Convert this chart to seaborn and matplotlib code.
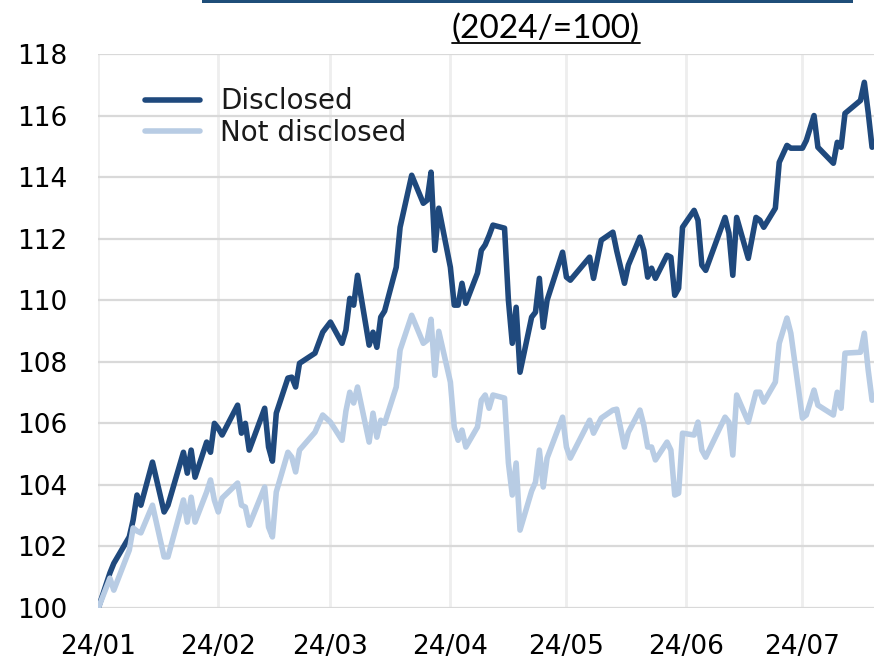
import matplotlib
matplotlib.use("Agg")
import matplotlib.pyplot as plt
import matplotlib.dates as mdates
from matplotlib.patches import Rectangle
from matplotlib.lines import Line2D
import pandas as pd
import seaborn as sns

# index, 2024 base = 100
dates = [
    "2024-01-01", "2024-01-04", "2024-01-05", "2024-01-09", "2024-01-10", "2024-01-11",
    "2024-01-12", "2024-01-15", "2024-01-18", "2024-01-19", "2024-01-23", "2024-01-24",
    "2024-01-25", "2024-01-26", "2024-01-29", "2024-01-30", "2024-01-31", "2024-02-01",
    "2024-02-02", "2024-02-06", "2024-02-07", "2024-02-08", "2024-02-09", "2024-02-13",
    "2024-02-14", "2024-02-15", "2024-02-16", "2024-02-19", "2024-02-20", "2024-02-21",
    "2024-02-22", "2024-02-26", "2024-02-28", "2024-03-01", "2024-03-04", "2024-03-05",
    "2024-03-06", "2024-03-07", "2024-03-08", "2024-03-11", "2024-03-12", "2024-03-13",
    "2024-03-14", "2024-03-15", "2024-03-18", "2024-03-19", "2024-03-22", "2024-03-25",
    "2024-03-26", "2024-03-27", "2024-03-28", "2024-03-29", "2024-04-01", "2024-04-02",
    "2024-04-03", "2024-04-04", "2024-04-05", "2024-04-08", "2024-04-09", "2024-04-10",
    "2024-04-11", "2024-04-12", "2024-04-15", "2024-04-16", "2024-04-17", "2024-04-18",
    "2024-04-19", "2024-04-22", "2024-04-23", "2024-04-24", "2024-04-25", "2024-04-26",
    "2024-04-30", "2024-05-01", "2024-05-02", "2024-05-07", "2024-05-08", "2024-05-10",
    "2024-05-13", "2024-05-14", "2024-05-16", "2024-05-17", "2024-05-20", "2024-05-21",
    "2024-05-22", "2024-05-23", "2024-05-24", "2024-05-27", "2024-05-28", "2024-05-29",
    "2024-05-30", "2024-05-31", "2024-06-03", "2024-06-04", "2024-06-05", "2024-06-06",
    "2024-06-11", "2024-06-12", "2024-06-13", "2024-06-14", "2024-06-17", "2024-06-19",
    "2024-06-20", "2024-06-21", "2024-06-24", "2024-06-25", "2024-06-27", "2024-06-28",
    "2024-07-01", "2024-07-02", "2024-07-04", "2024-07-05", "2024-07-09", "2024-07-10",
    "2024-07-11", "2024-07-12", "2024-07-16", "2024-07-17", "2024-07-18", "2024-07-19",
]

disclosed = [
    100.00, 101.14, 101.45, 102.31, 102.86, 103.67,
    103.34, 104.74, 103.12, 103.34, 105.06, 104.38,
    105.13, 104.25, 105.39, 105.06, 106.00, 105.84,
    105.62, 106.59, 105.68, 106.00, 105.13, 106.49,
    105.23, 104.77, 106.33, 107.47, 107.50, 107.18,
    107.95, 108.28, 108.96, 109.29, 108.60, 109.03,
    110.06, 109.84, 110.81, 108.54, 108.96, 108.47,
    109.45, 109.65, 111.07, 112.37, 114.06, 113.15,
    113.25, 114.16, 111.62, 112.99, 111.07, 109.84,
    109.84, 110.55, 109.90, 110.88, 111.62, 111.80,
    112.10, 112.44, 112.34, 110.00, 108.60, 109.77,
    107.66, 109.45, 109.61, 110.71, 109.12, 110.00,
    111.56, 110.75, 110.65, 111.40, 110.71, 111.95,
    112.21, 111.60, 110.55, 111.14, 112.05, 111.62,
    110.75, 111.04, 110.71, 111.46, 111.40, 110.16,
    110.39, 112.37, 112.92, 112.60, 111.14, 110.97,
    112.69, 112.18, 110.81, 112.69, 111.36, 112.69,
    112.60, 112.37, 112.99, 114.48, 115.03, 114.94,
    114.94, 115.19, 116.00, 114.97, 114.45, 115.13,
    114.97, 116.07, 116.49, 117.08, 116.10, 114.97,
]

not_disclosed = [
    100.00, 100.97, 100.58, 101.88, 102.60, 102.50,
    102.44, 103.34, 101.66, 101.66, 103.51, 102.79,
    103.60, 102.79, 103.77, 104.16, 103.50, 103.12,
    103.57, 104.06, 103.34, 103.28, 102.69, 103.93,
    102.63, 102.31, 103.77, 105.06, 104.90, 104.42,
    105.13, 105.71, 106.27, 106.04, 105.45, 106.40,
    107.01, 106.66, 107.18, 105.39, 106.33, 105.55,
    106.10, 106.00, 107.18, 108.38, 109.51, 108.60,
    108.70, 109.38, 107.56, 108.99, 107.34, 105.88,
    105.45, 105.78, 105.23, 105.88, 106.75, 106.92,
    106.49, 106.92, 106.82, 104.71, 103.67, 104.71,
    102.53, 103.80, 104.09, 105.13, 103.93, 104.87,
    106.20, 105.23, 104.87, 106.10, 105.68, 106.17,
    106.43, 106.46, 105.23, 105.71, 106.43, 105.94,
    105.23, 105.23, 104.81, 105.39, 105.13, 103.67,
    103.73, 105.68, 105.62, 106.04, 105.13, 104.90,
    106.20, 106.04, 104.97, 106.92, 106.04, 107.01,
    107.01, 106.69, 107.34, 108.60, 109.42, 108.93,
    106.17, 106.27, 107.08, 106.59, 106.27, 107.01,
    106.49, 108.28, 108.31, 108.93, 107.73, 106.75,
]

series_names = ["Disclosed", "Not disclosed"]
series_colors = ["#1F497D", "#B8CCE4"]
y_ticks = list(range(100, 119, 2))
subtitle = "(2024/=100)"

n = len(dates)
df = pd.DataFrame({
    "date": pd.to_datetime(dates * 2),
    "value": disclosed + not_disclosed,
    "group": [series_names[0]] * n + [series_names[1]] * n,
})

sns.set_style("white")
plt.rcParams["font.family"] = ["DejaVu Sans"]

fig = plt.figure(figsize=(8.74, 6.6), dpi=100, facecolor="white")
ax = fig.add_axes([0.1125, 0.0788, 0.8875, 0.8394])

sns.lineplot(data=df, x="date", y="value", hue="group", hue_order=series_names,
             palette=series_colors, linewidth=4, ax=ax)

ax.set_ylim(100, 118)
ax.set_yticks(y_ticks)
ax.set_xlim(pd.Timestamp("2024-01-01"), pd.Timestamp("2024-07-19 12:00"))
ax.xaxis.set_major_locator(mdates.MonthLocator())
ax.xaxis.set_major_formatter(mdates.DateFormatter("%y/%m"))
ax.set_xlabel("")
ax.set_ylabel("")

ax.grid(axis="y", color="#D9D9D9", linewidth=1.6)
ax.grid(axis="x", color="#EEEEEE", linewidth=2)
ax.set_axisbelow(True)
for s in ax.spines.values():
    s.set_visible(False)
ax.tick_params(axis="x", length=9, width=1.5, color="#D9D9D9", pad=10,
               labelsize=19, labelcolor="black")
ax.tick_params(axis="y", length=0, pad=22, labelsize=19, labelcolor="black")

handles, labels = ax.get_legend_handles_labels()
ax.legend(handles, labels, loc="upper left", bbox_to_anchor=(0.06, 0.94),
          frameon=False, fontsize=20, handlelength=2.0, handletextpad=0.7,
          labelspacing=0.12, borderpad=0, borderaxespad=0, labelcolor="#1a1a1a")

# title box edge and subtitle (cropped in original)
fig.add_artist(Rectangle((202 / 874, 1 - 3 / 660), 651 / 874, 3 / 660,
                         transform=fig.transFigure, color="#1F4E79", lw=0))
t = fig.text(0.6247, 1 - 29 / 660, subtitle, ha="center", va="center",
             fontsize=24, family=["Lato", "DejaVu Sans"], color="black")
fig.canvas.draw()
bb = t.get_window_extent().transformed(fig.transFigure.inverted())
fig.add_artist(Line2D([bb.x0, bb.x1], [1 - 43 / 660] * 2, transform=fig.transFigure,
                      color="black", lw=1.3))

fig.savefig("out.png", dpi=100, facecolor="white")
